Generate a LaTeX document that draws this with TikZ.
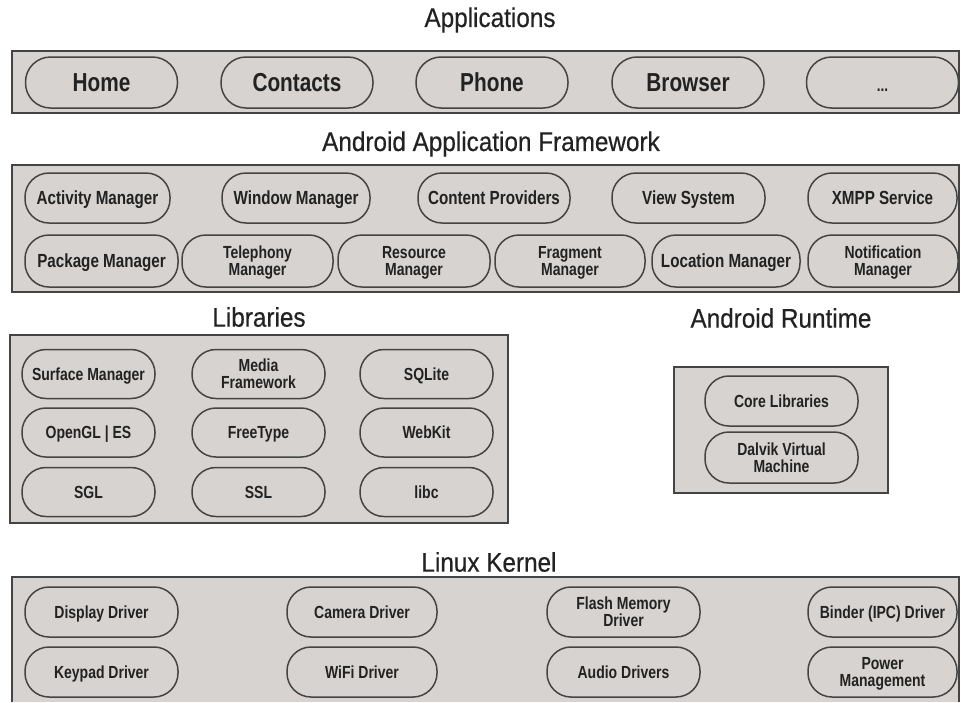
\documentclass[tikz,border=0pt]{standalone}
\usepackage{fontspec}
\setmainfont{Liberation Sans}
\newfontfamily\headfont[FakeStretch=0.9,FakeBold=0.5]{Liberation Sans}
\newfontfamily\pillfont[FakeStretch=0.8]{Liberation Sans}
\definecolor{layergray}{RGB}{214,211,208}
\definecolor{edgegray}{RGB}{68,68,68}
\definecolor{inkgray}{RGB}{34,34,34}
\begin{document}
\begin{tikzpicture}[x=1pt,y=-1pt,
    layer/.style={draw=edgegray,line width=2.2pt,fill=layergray},
    pill/.style={draw=edgegray,line width=1.5pt,fill=layergray,rounded corners=24pt,
        minimum width=150pt,minimum height=50pt,inner sep=0pt,align=center,text=inkgray,
        text height=12.5pt,text depth=0pt,
        font=\pillfont\bfseries\fontsize{17.5}{17}\selectfont},
    twoline/.style={text height=29.5pt},
    apppill/.style={pill,minimum width=152pt,minimum height=51pt,rounded corners=25pt,
        text height=18.6pt,font=\pillfont\bfseries\fontsize{26}{26}\selectfont},
    fwpill/.style={pill,text height=13.6pt,font=\pillfont\bfseries\fontsize{19}{17}\selectfont},
    libpill/.style={pill,minimum width=133pt,minimum height=49pt},
    head/.style={text=inkgray,font=\headfont\fontsize{27}{27}\selectfont}]
        \useasboundingbox (0,0) rectangle (961,702);
        \fill[white] (0,0) rectangle (961,702);
        \node[head] (happs) at (490,20){Applications};
        \draw[layer] (12,51) rectangle (959,113);
        \node[apppill] (home) at (101.5,82.5){Home};
        \node[apppill] (contacts) at (297,82.5){Contacts};
        \node[apppill] (phone) at (492,82.5){Phone};
        \node[apppill] (browser) at (688,82.5){Browser};
        \node[apppill] (moreapps) at (882.5,82.5){\fontsize{17}{17}\selectfont ...};
        \node[head] (hfw) at (491,144){Android Application Framework};
        \draw[layer] (12,165) rectangle (959,292);
        \node[fwpill,minimum width=145pt] (actmgr) at (97.5,198){Activity Manager};
        \node[fwpill,minimum width=148pt] (winmgr) at (296,198){Window Manager};
        \node[fwpill,minimum width=152pt] (content) at (494,198){Content Providers};
        \node[fwpill,minimum width=153pt] (viewsys) at (688.5,198){View System};
        \node[fwpill,minimum width=149pt] (xmpp) at (882.5,198){XMPP Service};
        \node[fwpill,minimum width=153pt,minimum height=52pt] (pkgmgr) at (101.5,261){Package Manager};
        \node[pill,twoline,minimum width=151pt,minimum height=52pt] (telmgr) at (257.5,261){Telephony\\Manager};
        \node[pill,twoline,minimum width=152pt,minimum height=52pt] (resmgr) at (414,261){Resource\\Manager};
        \node[pill,twoline,minimum width=150pt,minimum height=52pt] (fragmgr) at (570,261){Fragment\\Manager};
        \node[fwpill,minimum width=148pt,minimum height=52pt] (locmgr) at (726,261){Location Manager};
        \node[pill,twoline,minimum width=150pt,minimum height=52pt] (notifmgr) at (883,261){Notification\\Manager};
        \node[head] (hlibs) at (259,317){Libraries};
        \draw[layer] (10,335) rectangle (508,523);
        \node[libpill] (surface) at (88.5,374){Surface Manager};
        \node[libpill,twoline] (media) at (258.5,374){Media\\Framework};
        \node[libpill] (sqlite) at (426.5,374){SQLite};
        \node[libpill] (opengl) at (88.5,432.5){OpenGL | ES};
        \node[libpill] (freetype) at (258.5,432.5){FreeType};
        \node[libpill] (webkit) at (426.5,432.5){WebKit};
        \node[libpill] (sgl) at (88.5,492){SGL};
        \node[libpill] (ssl) at (258.5,492){SSL};
        \node[libpill] (libc) at (426.5,492){libc};
        \node[head] (hrt) at (781,318){Android Runtime};
        \draw[layer] (674,367) rectangle (888,493);
        \node[pill,minimum width=153pt] (corelib) at (781.5,401){Core Libraries};
        \node[pill,twoline,minimum width=153pt,minimum height=51pt] (dalvik) at (781.5,457.5){Dalvik Virtual\\Machine};
        \node[head] (hkernel) at (489,562){Linux Kernel};
        \fill[layergray] (12,577) rectangle (959,702);
        \draw[edgegray,line width=2.2pt] (12,702) -- (12,577) -- (959,577) -- (959,702);
        \node[pill,minimum width=153pt] (display) at (101.5,612){Display Driver};
        \node[pill] (camera) at (362,612){Camera Driver};
        \node[pill,twoline,minimum width=153pt] (flash) at (623.5,612){Flash Memory\\Driver};
        \node[pill,minimum width=149pt] (binder) at (882.5,612){Binder (IPC) Driver};
        \node[pill,minimum width=153pt] (keypad) at (101.5,672){Keypad Driver};
        \node[pill] (wifi) at (362,672){WiFi Driver};
        \node[pill,minimum width=153pt] (audio) at (623.5,672){Audio Drivers};
        \node[pill,twoline,minimum width=149pt] (power) at (882.5,672){Power\\Management};
    \end{tikzpicture}
\end{document}
